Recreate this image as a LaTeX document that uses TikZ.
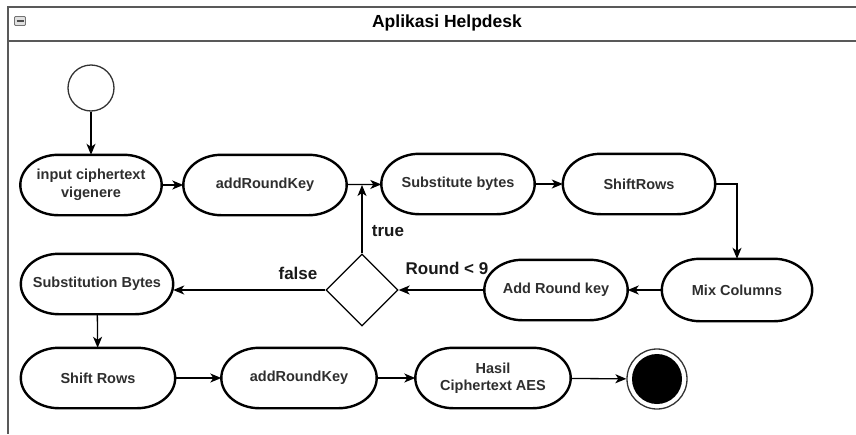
\documentclass[tikz,border=0pt]{standalone}
\usepackage{fontspec}
\setmainfont{Liberation Sans}
\usetikzlibrary{shapes.geometric,arrows.meta,calc}

\tikzset{
  action/.style={rectangle, minimum height=60pt, inner sep=0pt, align=center,
    font=\bfseries\fontsize{14.5}{17.5}\selectfont, text=black!82},
  outline/.style={draw=black, line width=2.4pt},
  decision/.style={draw=black, line width=1.3pt, diamond, aspect=1,
    minimum width=72pt, minimum height=72pt, inner sep=0pt},
  flow/.style={draw=black, line width=1.3pt,
    -{Stealth[length=11pt,width=9pt,inset=3pt]}},
  guard/.style={font=\bfseries\fontsize{17}{20}\selectfont, text=black!90},
  frame/.style={draw=black!65, line width=2pt},
}

% outline of an action node: flat top and bottom, half-elliptic ends
\newcommand\actionoutline[1]{%
  \draw[outline]
    ($(#1.north west)+(38,0)$) -- ($(#1.north east)+(-38,0)$)
    .. controls ($(#1.north east)+(-17,0)$) and ($(#1.east)+(0,-16.5)$) .. (#1.east)
    .. controls ($(#1.east)+(0,16.5)$) and ($(#1.south east)+(-17,0)$) .. ($(#1.south east)+(-38,0)$)
    -- ($(#1.south west)+(38,0)$)
    .. controls ($(#1.south west)+(17,0)$) and ($(#1.west)+(0,16.5)$) .. (#1.west)
    .. controls ($(#1.west)+(0,-16.5)$) and ($(#1.north west)+(17,0)$) .. ($(#1.north west)+(38,0)$)
    -- cycle;}

\begin{document}
\begin{tikzpicture}[x=1pt,y=-1pt]
  \useasboundingbox (0,0) rectangle (856,434);

  % swimlane frame and header
  \draw[frame] (856,7) -- (8,7) -- (8,434);
  \draw[frame] (8,41) -- (856,41);
  \node[draw=black!55, fill=black!12, line width=0.8pt, rounded corners=1pt,
        minimum width=11pt, minimum height=9pt, inner sep=0pt] (minbox) at (20,21) {};
  \draw[black!70, line width=1.2pt] ($(minbox.center)+(-3.5,0)$) -- ($(minbox.center)+(3.5,0)$);
  \node[font=\bfseries\fontsize{17.5}{20}\selectfont] (title) at (447,23) {Aplikasi Helpdesk};

  % start and end
  \node[draw=black!80, line width=1.3pt, circle, minimum size=46pt, inner sep=0pt] (start) at (91,88) {};
  \node[draw=black!80, line width=1.3pt, circle, minimum size=60pt, inner sep=0pt] (stop) at (657,379) {};
  \node[fill=black, circle, minimum size=50pt, inner sep=0pt] (stopdot) at (stop.center) {};

  % activities
  \node[action, minimum width=141pt] (input) at (91,185) {input ciphertext\\vigenere};
  \node[action, minimum width=163pt] (ark1) at (265,185) {addRoundKey};
  \node[action, minimum width=153pt] (subb) at (458,184) {Substitute bytes};
  \node[action, minimum width=152pt] (shr) at (639,184) {ShiftRows};
  \node[action, minimum width=150pt, minimum height=62pt] (mixc) at (737,290) {Mix Columns};
  \node[action, minimum width=143pt] (ark2) at (556,290) {Add Round key};
  \node[decision] (dec) at (362,290) {};
  \node[action, minimum width=152pt] (subs) at (97,284) {Substitution Bytes};
  \node[action, minimum width=154pt] (shr2) at (98,378) {Shift Rows};
  \node[action, minimum width=155pt] (ark3) at (299,378) {addRoundKey};
  \node[action, minimum width=155pt] (hasil) at (493,378) {Hasil\\Ciphertext AES};
  \foreach \n in {input,ark1,subb,shr,mixc,ark2,subs,shr2,ark3,hasil}
    {\actionoutline{\n}}

  % flow
  \draw[flow] (start) -- (input);
  \draw[flow] (input) -- (ark1);
  \draw[flow] (ark1) -- (subb);
  \draw[flow] (subb) -- (shr);
  \draw[flow] (shr.east) -| (mixc.north);
  \draw[flow] (mixc) -- (ark2);
  \draw[flow] (ark2) -- (dec);
  \coordinate (join) at (dec.north |- ark1.east);
  \draw[flow] (dec.north) -- (join);
  \draw[flow] (dec.west) -- (dec.west -| subs.east);
  \draw[flow] (subs) -- (shr2);
  \draw[flow] (shr2) -- (ark3);
  \draw[flow] (ark3) -- (hasil);
  \draw[flow] (hasil) -- (stop);

  % guards
  \node[guard] (gtrue) at (388,231) {true};
  \node[guard] (gfalse) at (298,273) {false};
  \node[guard] (ground) at (447,268) {Round < 9};
\end{tikzpicture}
\end{document}
